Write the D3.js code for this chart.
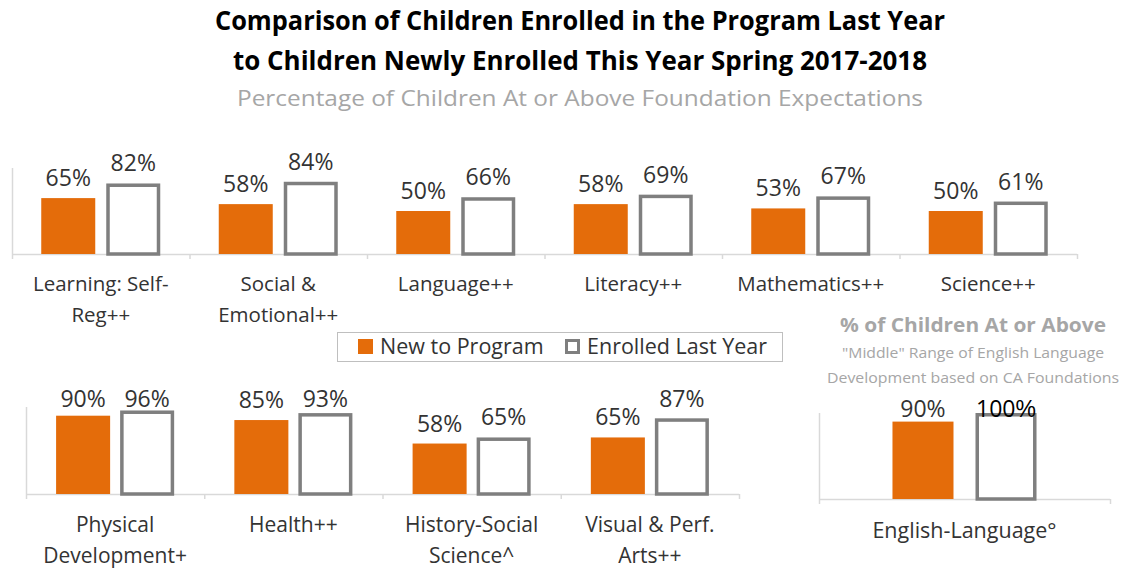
<!DOCTYPE html>
<html><head><meta charset="utf-8">
<script src="https://cdn.jsdelivr.net/npm/d3@7"></script>
<style>body{margin:0;background:#fff} text{font-family:"Open Sans",sans-serif}</style>
</head>
<body><svg id="c" width="1130" height="569"></svg>
<script>
const seriesNames = ["New to Program", "Enrolled Last Year"];
const topCategories = ["Learning: Self-\nReg++", "Social &\nEmotional++", "Language++", "Literacy++", "Mathematics++", "Science++"];
const topNew = [65, 58, 50, 58, 53, 50];
const topLast = [82, 84, 66, 69, 67, 61];
const bottomCategories = ["Physical\nDevelopment+", "Health++", "History-Social\nScience^", "Visual & Perf.\nArts++"];
const bottomNew = [90, 85, 58, 65];
const bottomLast = [96, 93, 65, 87];
const elCategories = ["English-Language°"];
const elNew = [90];
const elLast = [100];
const titleLines = ["Comparison of Children Enrolled in the Program Last Year", "to Children Newly Enrolled This Year Spring 2017-2018"];
const subtitle = "Percentage of Children At or Above Foundation Expectations";
const elTitle = ["% of Children At or Above", "\"Middle\" Range of English Language", "Development based on CA Foundations"];

const ORANGE = "#E46C0A", GRAY = "#7F7F7F", AXIS = "#D9D9D9", TXT = "#333333";
const svg = d3.select("#c");

// Titles
svg.append("text").attr("x", 580).attr("y", 30).attr("text-anchor", "middle")
  .attr("font-size", 27).attr("font-weight", 700).attr("fill", "#000")
  .attr("textLength", 730).attr("lengthAdjust", "spacingAndGlyphs").text(titleLines[0]);
svg.append("text").attr("x", 580).attr("y", 70).attr("text-anchor", "middle")
  .attr("font-size", 27).attr("font-weight", 700).attr("fill", "#000")
  .attr("textLength", 694).attr("lengthAdjust", "spacingAndGlyphs").text(titleLines[1]);
svg.append("text").attr("x", 580).attr("y", 106).attr("text-anchor", "middle")
  .attr("font-size", 22).attr("fill", "#A6A6A6")
  .attr("textLength", 686).attr("lengthAdjust", "spacingAndGlyphs").text(subtitle);

function panel(cfg) {
  const g = svg.append("g");
  const x = d3.scaleBand().domain(cfg.cats).range([cfg.x0, cfg.x1]);
  const xs = d3.scaleBand().domain(seriesNames).range([0, x.bandwidth()])
    .paddingInner(cfg.pi).paddingOuter(cfg.po);
  const y = d3.scaleLinear().domain([0, 100]).range([cfg.base, cfg.base - cfg.h]);
  // y axis line
  g.append("line").attr("x1", cfg.x0 + 0.5).attr("x2", cfg.x0 + 0.5)
    .attr("y1", y(100)).attr("y2", y(0)).attr("stroke", AXIS).attr("stroke-width", 1.5);
  // x axis
  g.append("line").attr("x1", cfg.x0).attr("x2", cfg.x1)
    .attr("y1", y(0) + 0.5).attr("y2", y(0) + 0.5).attr("stroke", AXIS).attr("stroke-width", 1.5);
  const bounds = cfg.cats.map(c => x(c)).concat([cfg.x1]);
  g.selectAll(".tk").data(bounds).join("line")
    .attr("x1", d => d + 0.5).attr("x2", d => d + 0.5)
    .attr("y1", y(0)).attr("y2", y(0) + 5).attr("stroke", AXIS).attr("stroke-width", 1.5);

  const rows = cfg.cats.map((c, i) => ({ c, vals: [cfg.a[i], cfg.b[i]] }));
  const grp = g.selectAll(".grp").data(rows).join("g")
    .attr("transform", d => `translate(${x(d.c)},0)`);
  grp.each(function (d) {
    const gg = d3.select(this);
    d.vals.forEach((v, s) => {
      const bx = xs(seriesNames[s]), bw = xs.bandwidth();
      if (s === 0) {
        gg.append("rect").attr("x", bx).attr("y", y(v)).attr("width", bw)
          .attr("height", y(0) - y(v)).attr("fill", ORANGE);
      } else {
        gg.append("rect").attr("x", bx + 1.75).attr("y", y(v) + 1.75).attr("width", bw - 3.5)
          .attr("height", y(0) - y(v) - 1.75).attr("fill", "#fff").attr("stroke", GRAY).attr("stroke-width", 3.5);
      }
      const ly = Math.max(y(v) - 12, y(100) + cfg.clamp);
      const t = gg.append("text").attr("x", bx + bw / 2).attr("y", ly).attr("text-anchor", "middle")
        .attr("font-size", 23).attr("fill", cfg.pctFill && v === 100 ? "#000" : TXT);
      if (cfg.pctFill && v === 100) {
        t.append("tspan").text(v);
        t.append("tspan").attr("font-family", "Liberation Sans").attr("font-weight", 300).text("%");
      } else t.text(v + "%");
    });
    const lines = d.c.split("\n");
    const ct = gg.append("text").attr("text-anchor", "middle").attr("font-size", cfg.catSize).attr("fill", TXT);
    lines.forEach((ln, k) => ct.append("tspan").attr("x", x.bandwidth() / 2 + (cfg.catDx || 0))
      .attr("y", cfg.catY + k * cfg.lineH).text(ln));
  });
}

panel({ cats: topCategories, a: topNew, b: topLast, x0: 12, x1: 1077, base: 254, h: 86,
  pi: 11 / 65, po: 0.45, clamp: 0, catY: 291, lineH: 31, catSize: 20.5 });
panel({ cats: bottomCategories, a: bottomNew, b: bottomLast, x0: 26, x1: 739, base: 494, h: 87,
  pi: 10 / 64, po: 0.47, clamp: 0, catY: 532, lineH: 31, catSize: 21 });
panel({ cats: elCategories, a: elNew, b: elLast, x0: 819, x1: 1110, base: 499, h: 86,
  pi: 22 / 83, po: 0.885, clamp: 4, catY: 538, lineH: 31, catSize: 21.5, pctFill: true });

// EL panel titles
svg.append("text").attr("x", 973).attr("y", 332).attr("text-anchor", "middle")
  .attr("font-size", 19).attr("font-weight", 700).attr("fill", "#A6A6A6")
  .attr("textLength", 266).attr("lengthAdjust", "spacingAndGlyphs").text(elTitle[0]);
svg.append("text").attr("x", 973).attr("y", 358).attr("text-anchor", "middle")
  .attr("font-size", 14.5).attr("fill", "#A6A6A6")
  .attr("textLength", 262).attr("lengthAdjust", "spacingAndGlyphs").text(elTitle[1]);
svg.append("text").attr("x", 973).attr("y", 383).attr("text-anchor", "middle")
  .attr("font-size", 14.5).attr("fill", "#A6A6A6")
  .attr("textLength", 292).attr("lengthAdjust", "spacingAndGlyphs").text(elTitle[2]);

// Legend
const lg = svg.append("g");
lg.append("rect").attr("x", 337.5).attr("y", 332.5).attr("width", 445).attr("height", 29)
  .attr("fill", "#fff").attr("stroke", "#BFBFBF").attr("stroke-width", 1);
const legX = [358, 565];
seriesNames.forEach((s, i) => {
  if (i === 0) lg.append("rect").attr("x", legX[i]).attr("y", 339).attr("width", 15).attr("height", 15).attr("fill", ORANGE);
  else lg.append("rect").attr("x", legX[i] + 1.5).attr("y", 340.5).attr("width", 12).attr("height", 12)
    .attr("fill", "#fff").attr("stroke", GRAY).attr("stroke-width", 3);
  lg.append("text").attr("x", legX[i] + 22).attr("y", 354).attr("font-size", 21.5).attr("fill", TXT).text(s);
});
</script>
</body></html>
